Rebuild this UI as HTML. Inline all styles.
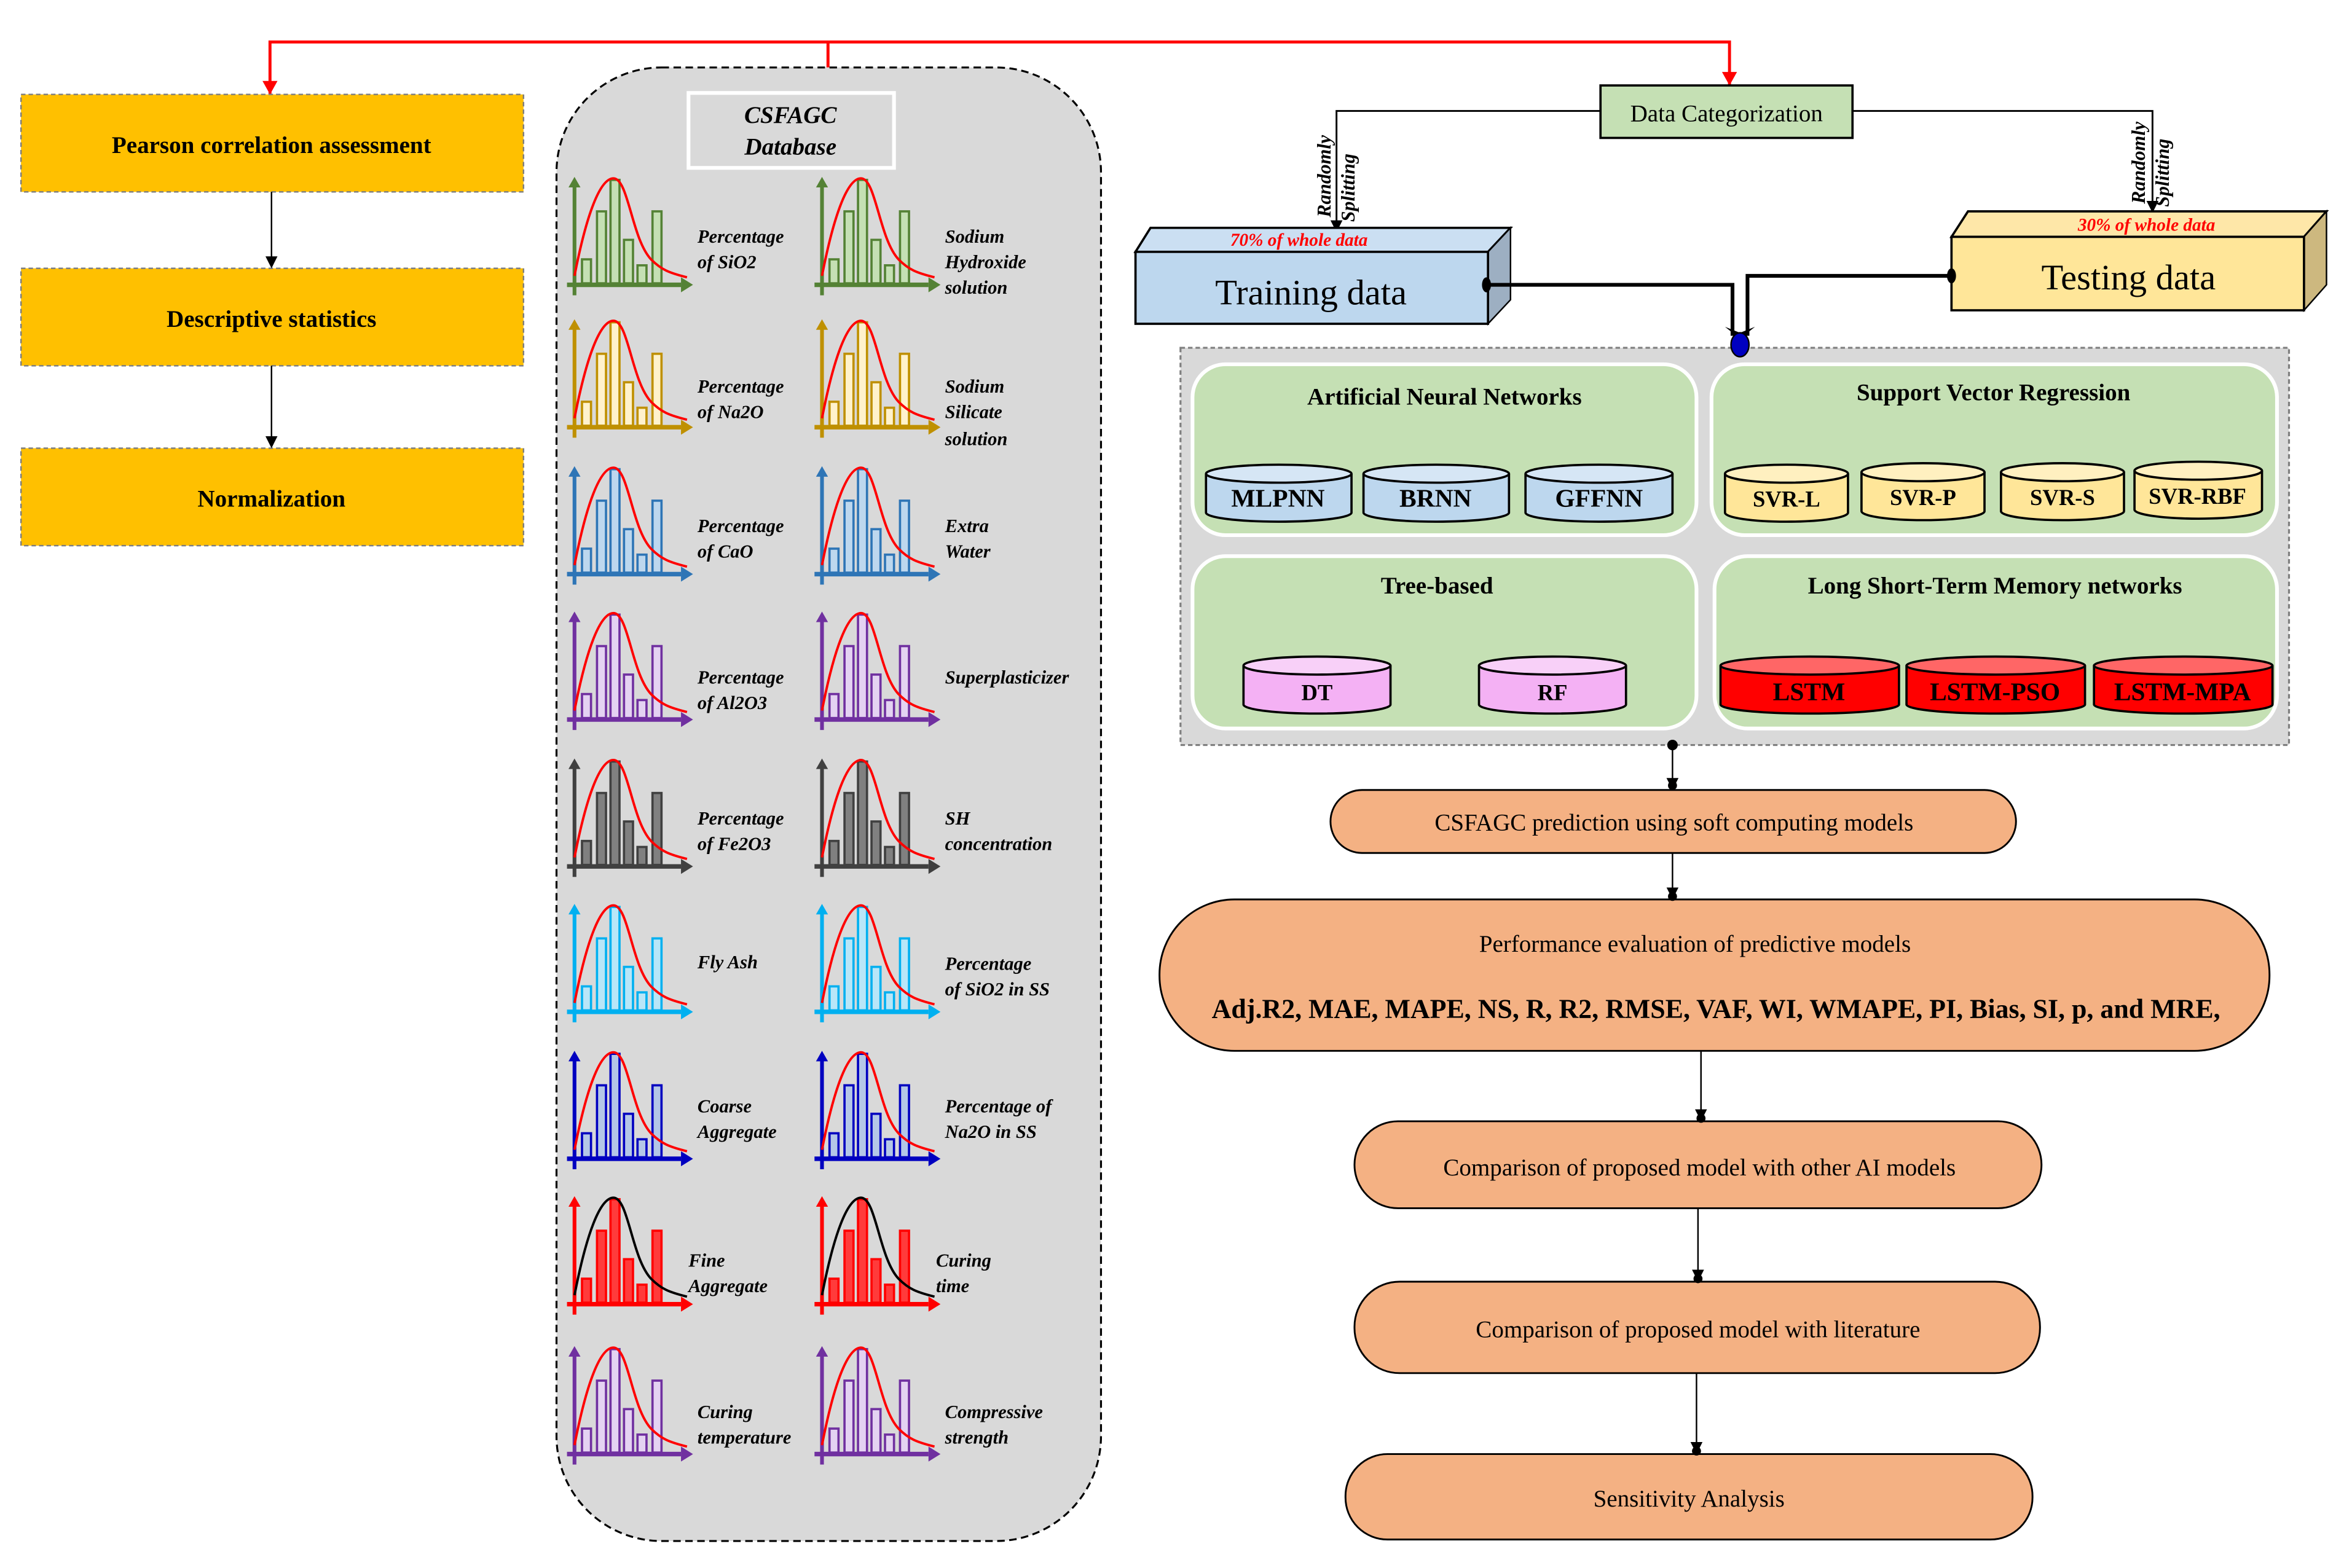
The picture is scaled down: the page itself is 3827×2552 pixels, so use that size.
<!DOCTYPE html>
<html><head><meta charset="utf-8"><style>
html,body{margin:0;padding:0;background:#fff}
svg{display:block}
text{font-family:"Liberation Serif",serif}
.lab{font-style:italic;font-weight:bold;font-size:12.5px}
.bt{font-weight:bold;font-size:16px}
.cyl{font-weight:bold;font-size:16px}
</style></head><body>
<svg width="3827" height="2552" viewBox="0 0 1568 1046" preserveAspectRatio="none" xmlns="http://www.w3.org/2000/svg">
<defs>
<marker id="ar" markerWidth="8" markerHeight="8" refX="7" refY="4" orient="auto" markerUnits="userSpaceOnUse"><path d="M0,0 L8,4 L0,8 Z" fill="#000"/></marker>
<g id="ch">
 <line x1="5" y1="8" x2="5" y2="82" stroke="currentColor" stroke-width="2.5"/>
 <path d="M1,10 L9,10 L5,3 Z" fill="currentColor" stroke="none"/>
 <line x1="0" y1="75" x2="76" y2="75" stroke="currentColor" stroke-width="3"/>
 <path d="M76,70 L84,75 L76,80 Z" fill="currentColor" stroke="none"/>
 <g stroke="currentColor" stroke-width="1.5">
  <rect x="10" y="58" width="6" height="16"/>
  <rect x="20" y="26" width="6" height="48"/>
  <rect x="29" y="5" width="6" height="69"/>
  <rect x="38" y="45" width="6" height="29"/>
  <rect x="47" y="62" width="6" height="12"/>
  <rect x="57" y="26" width="6" height="48"/>
 </g>
 <path d="M5,69 C13,28 22,4 31,4 C41,4 43,44 56,58 C63,65 68,67 80,70" fill="none" stroke-width="1.6"/>
</g>
</defs>

<polyline points="180,63 180,28 1153,28 1153,57" fill="none" stroke="#f00" stroke-width="2"/>
<line x1="552" y1="28" x2="552" y2="45" stroke="#f00" stroke-width="2"/>
<path d="M175,54 L185,54 L180,63 Z" fill="#f00"/>
<path d="M1148,48 L1158,48 L1153,57 Z" fill="#f00"/>

<g fill="#ffc000" stroke="#7f7f7f" stroke-width="1" stroke-dasharray="3,2">
<rect x="14" y="63" width="335" height="65"/>
<rect x="14" y="179" width="335" height="65"/>
<rect x="14" y="299" width="335" height="65"/>
</g>
<text x="181" y="102" text-anchor="middle" class="bt">Pearson correlation assessment</text>
<text x="181" y="218" text-anchor="middle" class="bt">Descriptive statistics</text>
<text x="181" y="338" text-anchor="middle" class="bt">Normalization</text>
<line x1="181" y1="128" x2="181" y2="178" stroke="#000" stroke-width="1" marker-end="url(#ar)"/>
<line x1="181" y1="244" x2="181" y2="298" stroke="#000" stroke-width="1" marker-end="url(#ar)"/>

<rect x="371" y="45" width="363" height="983" rx="70" fill="#d9d9d9" stroke="#000" stroke-width="1.3" stroke-dasharray="5,3"/>
<rect x="459" y="62" width="137" height="50" fill="none" stroke="#fff" stroke-width="2.5"/>
<text x="527" y="82" text-anchor="middle" style="font-style:italic;font-weight:bold;font-size:16px">CSFAGC</text>
<text x="527" y="103" text-anchor="middle" style="font-style:italic;font-weight:bold;font-size:16px">Database</text>

<g color="#548235" fill="#c5e0b4" stroke="#f00">
<use href="#ch" x="378" y="115"/><use href="#ch" x="543" y="115"/></g>
<g color="#bf9000" fill="#fff2cc" stroke="#f00">
<use href="#ch" x="378" y="210"/><use href="#ch" x="543" y="210"/></g>
<g color="#2e75b6" fill="#bdd7ee" stroke="#f00">
<use href="#ch" x="378" y="308"/><use href="#ch" x="543" y="308"/></g>
<g color="#7030a0" fill="#e4d2f2" stroke="#f00">
<use href="#ch" x="378" y="405"/><use href="#ch" x="543" y="405"/></g>
<g color="#404040" fill="#808080" stroke="#f00">
<use href="#ch" x="378" y="503"/><use href="#ch" x="543" y="503"/></g>
<g color="#00b0f0" fill="#b8e6f8" stroke="#f00">
<use href="#ch" x="378" y="600"/><use href="#ch" x="543" y="600"/></g>
<g color="#0000c0" fill="#b4c7e7" stroke="#f00">
<use href="#ch" x="378" y="698"/><use href="#ch" x="543" y="698"/></g>
<g color="#ff0000" fill="#ff3b3b" stroke="#000">
<use href="#ch" x="378" y="795"/><use href="#ch" x="543" y="795"/></g>
<g color="#7030a0" fill="#e4d2f2" stroke="#f00">
<use href="#ch" x="378" y="895"/><use href="#ch" x="543" y="895"/></g>

<g class="lab">
<text x="465" y="162">Percentage</text><text x="465" y="179">of SiO2</text>
<text x="630" y="162">Sodium</text><text x="630" y="179">Hydroxide</text><text x="630" y="196">solution</text>
<text x="465" y="262">Percentage</text><text x="465" y="279">of Na2O</text>
<text x="630" y="262">Sodium</text><text x="630" y="279">Silicate</text><text x="630" y="297">solution</text>
<text x="465" y="355">Percentage</text><text x="465" y="372">of CaO</text>
<text x="630" y="355">Extra</text><text x="630" y="372">Water</text>
<text x="465" y="456">Percentage</text><text x="465" y="473">of Al2O3</text>
<text x="630" y="456">Superplasticizer</text>
<text x="465" y="550">Percentage</text><text x="465" y="567">of Fe2O3</text>
<text x="630" y="550">SH</text><text x="630" y="567">concentration</text>
<text x="465" y="646">Fly Ash</text>
<text x="630" y="647">Percentage</text><text x="630" y="664">of SiO2 in SS</text>
<text x="465" y="742">Coarse</text><text x="465" y="759">Aggregate</text>
<text x="630" y="742">Percentage of</text><text x="630" y="759">Na2O in SS</text>
<text x="459" y="845">Fine</text><text x="459" y="862">Aggregate</text>
<text x="624" y="845">Curing</text><text x="624" y="862">time</text>
<text x="465" y="946">Curing</text><text x="465" y="963">temperature</text>
<text x="630" y="946">Compressive</text><text x="630" y="963">strength</text>
</g>

<rect x="1067" y="57" width="168" height="35" fill="#c5e0b4" stroke="#000" stroke-width="1.5"/>
<text x="1151" y="81" text-anchor="middle" style="font-size:16px">Data Categorization</text>
<polyline points="1067,74 891,74 891,154" fill="none" stroke="#000" stroke-width="1.2" marker-end="url(#ar)"/>
<polyline points="1235,74 1435,74 1435,141" fill="none" stroke="#000" stroke-width="1.2" marker-end="url(#ar)"/>
<text transform="translate(887,145) rotate(-90)" style="font-style:italic;font-weight:bold;font-size:13px">Randomly</text>
<text transform="translate(903,148) rotate(-90)" style="font-style:italic;font-weight:bold;font-size:13px">Splitting</text>
<text transform="translate(1430,136) rotate(-90)" style="font-style:italic;font-weight:bold;font-size:13px">Randomly</text>
<text transform="translate(1446,138) rotate(-90)" style="font-style:italic;font-weight:bold;font-size:13px">Splitting</text>

<path d="M757,168 L767,152 L1007,152 L992,168 Z" fill="#cbdff2" stroke="#000" stroke-width="1.5"/>
<path d="M992,168 L1007,152 L1007,200 L992,216 Z" fill="#9dafc2" stroke="#000" stroke-width="1"/>
<rect x="757" y="168" width="235" height="48" fill="#bdd7ee" stroke="#000" stroke-width="1.5"/>
<text x="866" y="164" text-anchor="middle" fill="#f00" style="font-style:italic;font-weight:bold;font-size:12px">70% of whole data</text>
<text x="874" y="203" text-anchor="middle" style="font-size:24px">Training data</text>
<path d="M1301,158 L1312,141 L1551,141 L1536,158 Z" fill="#fee7a8" stroke="#000" stroke-width="1.5"/>
<path d="M1536,158 L1551,141 L1551,190 L1536,207 Z" fill="#cdb87f" stroke="#000" stroke-width="1"/>
<rect x="1301" y="158" width="235" height="49" fill="#ffe699" stroke="#000" stroke-width="1.5"/>
<text x="1431" y="154" text-anchor="middle" fill="#f00" style="font-style:italic;font-weight:bold;font-size:12px">30% of whole data</text>
<text x="1419" y="193" text-anchor="middle" style="font-size:24px">Testing data</text>

<polyline points="991,190 1155,190 1155,224" fill="none" stroke="#000" stroke-width="2.5"/>
<polyline points="1301,184 1165,184 1165,224" fill="none" stroke="#000" stroke-width="2.5"/>
<ellipse cx="991" cy="190" rx="3" ry="5"/>
<ellipse cx="1301" cy="184" rx="3" ry="5"/>

<rect x="787" y="232" width="739" height="265" fill="#d9d9d9" stroke="#7f7f7f" stroke-width="1.3" stroke-dasharray="3,2"/>
<path d="M1150,218 L1160,226 L1170,218 L1160,222 Z" fill="#000"/>
<ellipse cx="1160" cy="230" rx="6" ry="8" fill="#0000c0" stroke="#000" stroke-width="1"/>
<g fill="#c5e0b4" stroke="#fff" stroke-width="2.5">
<rect x="795" y="243" width="336" height="114" rx="22"/>
<rect x="1141" y="243" width="377" height="114" rx="22"/>
<rect x="795" y="371" width="336" height="115" rx="22"/>
<rect x="1143" y="371" width="375" height="115" rx="22"/>
</g>
<text x="963" y="270" text-anchor="middle" class="bt">Artificial Neural Networks</text>
<text x="1329" y="267" text-anchor="middle" class="bt">Support Vector Regression</text>
<text x="958" y="396" text-anchor="middle" class="bt">Tree-based</text>
<text x="1330" y="396" text-anchor="middle" class="bt">Long Short-Term Memory networks</text>

<g stroke="#000" stroke-width="1.5">
<g fill="#bdd7ee"><path d="M804,316 L804,342 A48.5,6 0 0 0 901,342 L901,316"/><ellipse cx="852.5" cy="316" rx="48.5" ry="6" fill="#d6e6f5"/>
<path d="M909,316 L909,342 A48.5,6 0 0 0 1006,342 L1006,316"/><ellipse cx="957.5" cy="316" rx="48.5" ry="6" fill="#d6e6f5"/>
<path d="M1017,316 L1017,342 A49,6 0 0 0 1115,342 L1115,316"/><ellipse cx="1066" cy="316" rx="49" ry="6" fill="#d6e6f5"/></g>
<g fill="#ffe699"><path d="M1150,316 L1150,342 A41,6 0 0 0 1232,342 L1232,316"/><ellipse cx="1191" cy="316" rx="41" ry="6" fill="#fff0c0"/>
<path d="M1241,315 L1241,341 A41,6 0 0 0 1323,341 L1323,315"/><ellipse cx="1282" cy="315" rx="41" ry="6" fill="#fff0c0"/>
<path d="M1334,315 L1334,341 A41,6 0 0 0 1416,341 L1416,315"/><ellipse cx="1375" cy="315" rx="41" ry="6" fill="#fff0c0"/>
<path d="M1423,314 L1423,340 A42.5,6 0 0 0 1508,340 L1508,314"/><ellipse cx="1465.5" cy="314" rx="42.5" ry="6" fill="#fff0c0"/></g>
<g fill="#f4b1f4"><path d="M829,444 L829,470 A49,6 0 0 0 927,470 L927,444"/><ellipse cx="878" cy="444" rx="49" ry="6" fill="#f8d0f8"/>
<path d="M986,444 L986,470 A49,6 0 0 0 1084,470 L1084,444"/><ellipse cx="1035" cy="444" rx="49" ry="6" fill="#f8d0f8"/></g>
<g fill="#ff0000"><path d="M1147,444 L1147,470 A59.5,6 0 0 0 1266,470 L1266,444"/><ellipse cx="1206.5" cy="444" rx="59.5" ry="6" fill="#ff6666"/>
<path d="M1271,444 L1271,470 A59.5,6 0 0 0 1390,470 L1390,444"/><ellipse cx="1330.5" cy="444" rx="59.5" ry="6" fill="#ff6666"/>
<path d="M1396,444 L1396,470 A59.5,6 0 0 0 1515,470 L1515,444"/><ellipse cx="1455.5" cy="444" rx="59.5" ry="6" fill="#ff6666"/></g>
</g>
<g class="cyl" text-anchor="middle">
<text x="852" y="338" style="font-size:17px">MLPNN</text><text x="957" y="338" style="font-size:17px">BRNN</text><text x="1066" y="338" style="font-size:17px">GFFNN</text>
<text x="1191" y="338" style="font-size:15px">SVR-L</text><text x="1282" y="337" style="font-size:15px">SVR-P</text><text x="1375" y="337" style="font-size:15px">SVR-S</text><text x="1465" y="336" style="font-size:15px">SVR-RBF</text>
<text x="878" y="467" style="font-size:15px">DT</text><text x="1035" y="467" style="font-size:15px">RF</text>
<text x="1206" y="467" style="font-size:17px">LSTM</text><text x="1330" y="467" style="font-size:17px">LSTM-PSO</text><text x="1455" y="467" style="font-size:17px">LSTM-MPA</text>
</g>

<circle cx="1115" cy="497" r="3.5"/>
<line x1="1115" y1="497" x2="1115" y2="526" stroke="#000" stroke-width="1" marker-end="url(#ar)"/>
<circle cx="1115" cy="524" r="3"/>
<g fill="#f4b183" stroke="#000" stroke-width="1.2">
<rect x="887" y="527" width="457" height="42" rx="21"/>
<rect x="773" y="600" width="740" height="101" rx="50"/>
<rect x="903" y="748" width="458" height="58" rx="29"/>
<rect x="903" y="855" width="457" height="61" rx="30"/>
<rect x="897" y="970" width="458" height="57" rx="28"/>
</g>
<line x1="1115" y1="569" x2="1115" y2="599" stroke="#000" stroke-width="1" marker-end="url(#ar)"/><circle cx="1115" cy="598" r="3"/>
<line x1="1134" y1="701" x2="1134" y2="747" stroke="#000" stroke-width="1" marker-end="url(#ar)"/><circle cx="1134" cy="746" r="3"/>
<line x1="1132" y1="806" x2="1132" y2="854" stroke="#000" stroke-width="1" marker-end="url(#ar)"/><circle cx="1132" cy="853" r="3"/>
<line x1="1131" y1="916" x2="1131" y2="969" stroke="#000" stroke-width="1" marker-end="url(#ar)"/><circle cx="1131" cy="968" r="3"/>
<g text-anchor="middle" style="font-size:16px">
<text x="1116" y="554">CSFAGC prediction using soft computing models</text>
<text x="1130" y="635">Performance evaluation of predictive models</text>
<text x="1144" y="679" style="font-weight:bold;font-size:18px">Adj.R2, MAE, MAPE, NS, R, R2, RMSE, VAF, WI, WMAPE, PI, Bias, SI, p, and MRE,</text>
<text x="1133" y="784">Comparison of proposed model with other AI models</text>
<text x="1132" y="892">Comparison of proposed model with literature</text>
<text x="1126" y="1005">Sensitivity Analysis</text>
</g>
</svg>
</body></html>
